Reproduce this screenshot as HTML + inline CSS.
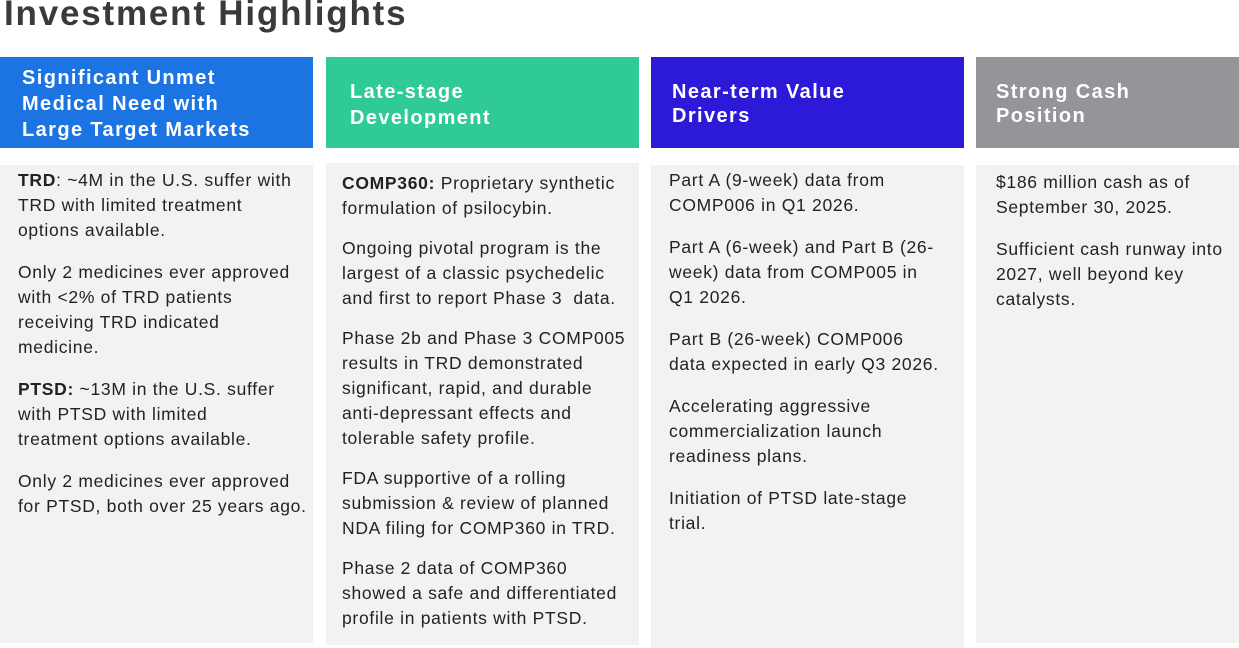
<!DOCTYPE html>
<html><head><meta charset="utf-8">
<style>
html,body{margin:0;padding:0;background:#fff;}
body{width:1239px;height:648px;position:relative;overflow:hidden;font-family:"Liberation Sans",sans-serif;}
.title{position:absolute;left:4px;top:-6px;font-size:35px;font-weight:bold;color:#3a3a3a;letter-spacing:1.8px;}
.hdr{position:absolute;top:57px;height:91px;color:#fff;font-weight:bold;font-size:20px;letter-spacing:1.4px;line-height:26px;display:flex;align-items:center;box-sizing:border-box;padding-top:3px;}
.body{position:absolute;background:#f2f2f2;color:#222;font-size:17.5px;letter-spacing:0.7px;line-height:25px;box-sizing:border-box;padding-top:6px;}
.body p{margin:0 0 17px 0;white-space:nowrap;}
</style></head><body>
<div class="title">Investment Highlights</div>

<div class="hdr" style="left:0;width:313px;background:#1b74e2;padding-left:22px;">Significant Unmet<br>Medical Need with<br>Large Target Markets</div>
<div class="hdr" style="left:326px;width:313px;background:#2fca98;padding-left:24px;padding-top:5px;">Late-stage<br>Development</div>
<div class="hdr" style="left:651px;width:313px;background:#2d19d8;padding-left:21px;line-height:24px;">Near-term Value<br>Drivers</div>
<div class="hdr" style="left:976px;width:263px;background:#939598;padding-left:20px;line-height:24px;">Strong Cash<br>Position</div>

<div class="body" style="left:0;top:165px;width:313px;height:478px;padding-left:18px;padding-top:3px;">
<p><b>TRD</b>: ~4M in the U.S. suffer with<br>TRD with limited treatment<br>options available.</p>
<p>Only 2 medicines ever approved<br>with &lt;2% of TRD patients<br>receiving TRD indicated<br>medicine.</p>
<p><b>PTSD:</b> ~13M in the U.S. suffer<br>with PTSD with limited<br>treatment options available.</p>
<p>Only 2 medicines ever approved<br>for PTSD, both over 25 years ago.</p>
</div>

<div class="body" style="left:326px;top:163px;width:313px;height:482px;padding-left:16px;padding-top:8px;">
<p style="margin-bottom:15px"><b>COMP360:</b> Proprietary synthetic<br>formulation of psilocybin.</p>
<p style="margin-bottom:15px">Ongoing pivotal program is the<br>largest of a classic psychedelic<br>and first to report Phase 3&nbsp; data.</p>
<p style="margin-bottom:15px">Phase 2b and Phase 3 COMP005<br>results in TRD demonstrated<br>significant, rapid, and durable<br>anti-depressant effects and<br>tolerable safety profile.</p>
<p style="margin-bottom:15px">FDA supportive of a rolling<br>submission &amp; review of planned<br>NDA filing for COMP360 in TRD.</p>
<p>Phase 2 data of COMP360<br>showed a safe and differentiated<br>profile in patients with PTSD.</p>
</div>

<div class="body" style="left:651px;top:165px;width:313px;height:483px;padding-left:18px;padding-top:3px;">
<p>Part A (9-week) data from<br>COMP006 in Q1 2026.</p>
<p>Part A (6-week) and Part B (26-<br>week) data from COMP005 in<br>Q1 2026.</p>
<p>Part B (26-week) COMP006<br>data expected in early Q3 2026.</p>
<p>Accelerating aggressive<br>commercialization launch<br>readiness plans.</p>
<p>Initiation of PTSD late-stage<br>trial.</p>
</div>

<div class="body" style="left:976px;top:165px;width:263px;height:478px;padding-left:20px;padding-top:5px;">
<p>$186 million cash as of<br>September 30, 2025.</p>
<p>Sufficient cash runway into<br>2027, well beyond key<br>catalysts.</p>
</div>
</body></html>
